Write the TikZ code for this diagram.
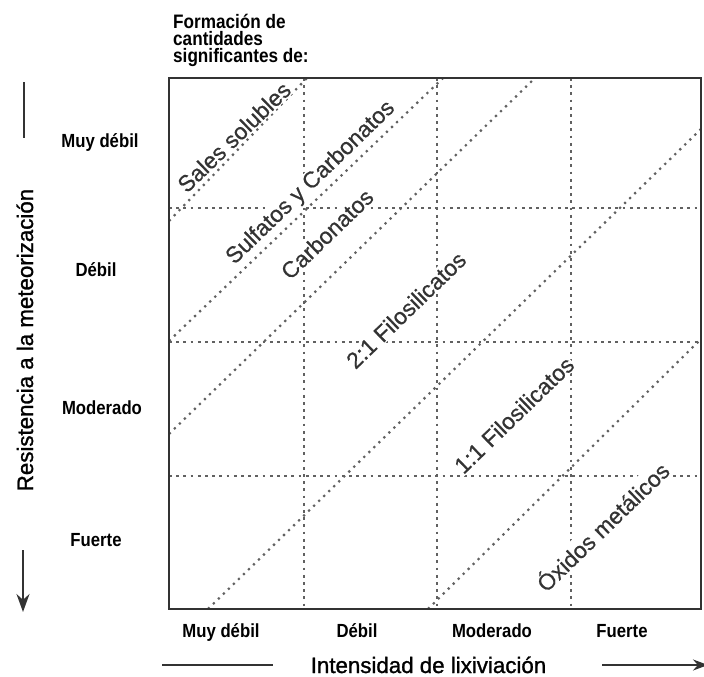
\documentclass[tikz,border=0pt]{standalone}
\usepackage{fontspec}
\setmainfont{Liberation Sans}
\newfontfamily\lblfont[FakeStretch=0.88]{Liberation Sans}
\newfontfamily\titlefont[FakeBold=1.2]{Liberation Sans}
\newfontfamily\zonefont[FakeBold=0.6]{Liberation Sans}
\usetikzlibrary{arrows.meta}

\begin{document}
\begin{tikzpicture}[x=1pt,y=-1pt,
  frame/.style={draw=black!80, line width=2.4pt},
  gridline/.style={draw=black!62, line width=2.2pt, dash pattern=on 2.8pt off 4.4pt},
  diagline/.style={draw=black!62, line width=2.2pt, dash pattern=on 2.2pt off 4.8pt},
  zone/.style={font=\zonefont\fontsize{22.8}{24}\selectfont, text=black!80, fill=white, inner sep=1pt, rotate=44},
  ticklabel/.style={font=\lblfont\bfseries\fontsize{19}{20}\selectfont, anchor=base},
  headline/.style={font=\lblfont\bfseries\fontsize{19.5}{20}\selectfont, anchor=base west, inner sep=0pt},
  axistitle/.style={font=\titlefont\fontsize{22.3}{24}\selectfont, anchor=base, inner sep=0pt},
  axisline/.style={draw=black!80, line width=1.8pt},
]
\useasboundingbox (0,0) rectangle (704,677);

% frame corners
\coordinate (nw) at (169,78);
\coordinate (se) at (701,609);

% 4 x 4 grid
\foreach \gx in {304,437,571} \draw[gridline] (\gx,78) -- (\gx,609);
\foreach \gy in {208,342,476} \draw[gridline] (169,\gy) -- (701,\gy);

% zone boundaries
\coordinate (d1a) at (169,221); \coordinate (d1b) at (307,78);
\coordinate (d2a) at (169,341); \coordinate (d2b) at (443,78);
\coordinate (d3a) at (169,434); \coordinate (d3b) at (535,78);
\coordinate (d4a) at (208,609); \coordinate (d4b) at (701,129);
\coordinate (d5a) at (428,609); \coordinate (d5b) at (701,339);
\draw[diagline] (d1a) -- (d1b);
\draw[diagline] (d2a) -- (d2b);
\draw[diagline] (d3a) -- (d3b);
\draw[diagline] (d4a) -- (d4b);
\draw[diagline] (d5a) -- (d5b);

% zone names
\node[zone] (sales) at (234,137) {Sales solubles};
\node[zone] (sulf) at (311,183) {Sulfatos y Carbonatos};
\node[zone] (carb) at (327,234) {Carbonatos};
\node[zone] (fil21) at (406,310) {2:1 Filosilicatos};
\node[zone] (fil11) at (514,415) {1:1 Filosilicatos};
\node[zone] (oxid) at (602,526) {Óxidos metálicos};

\draw[frame] (nw) rectangle (se);

% heading
\node[headline] (h1) at (173,29) {Formación de};
\node[headline] (h2) at (173,46) {cantidades};
\node[headline] (h3) at (173,63) {significantes de:};

% weathering resistance scale
\node[ticklabel] (r1) at (100,147) {Muy débil};
\node[ticklabel] (r2) at (96,276) {Débil};
\node[ticklabel] (r3) at (102,414) {Moderado};
\node[ticklabel] (r4) at (96,546) {Fuerte};

% leaching intensity scale
\node[ticklabel] (c1) at (221,637) {Muy débil};
\node[ticklabel] (c2) at (357,637) {Débil};
\node[ticklabel] (c3) at (492,637) {Moderado};
\node[ticklabel] (c4) at (622,637) {Fuerte};

% axis titles
\node[axistitle, rotate=90] (ytitle) at (33,340) {Resistencia a la meteorización};
\node[axistitle] (xtitle) at (428.5,673) {Intensidad de lixiviación};

% axis arrows
\coordinate (ya) at (24,82);  \coordinate (yb) at (24,138);
\coordinate (yc) at (23,550); \coordinate (yd) at (23,612);
\coordinate (xa) at (162,665); \coordinate (xb) at (273,665);
\coordinate (xc) at (602,665); \coordinate (xd) at (708,665);
\draw[axisline] (ya) -- (yb);
\draw[axisline, -{Stealth[length=18pt,width=13pt]}] (yc) -- (yd);
\draw[axisline] (xa) -- (xb);
\draw[axisline, -{Stealth[length=15pt,width=11pt]}] (xc) -- (xd);
\end{tikzpicture}
\end{document}
